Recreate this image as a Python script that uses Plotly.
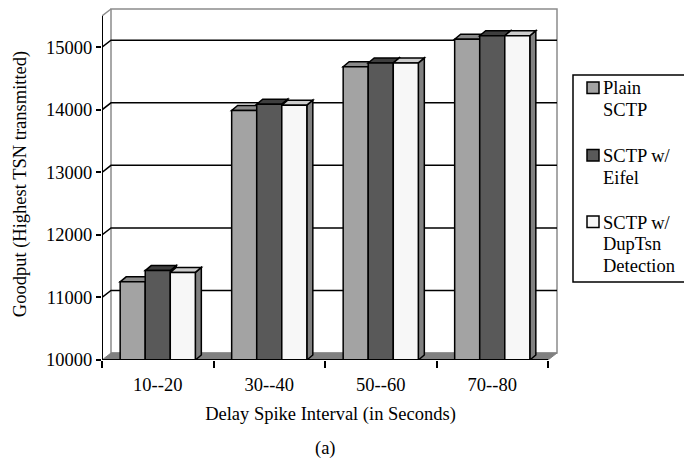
import plotly.graph_objects as go

# ---- data -------------------------------------------------------------
categories = ["10--20", "30--40", "50--60", "70--80"]
series_names = ["Plain SCTP", "SCTP w/ Eifel", "SCTP w/ DupTsn Detection"]
legend_lines = [["Plain", "SCTP"], ["SCTP w/", "Eifel"], ["SCTP w/", "DupTsn", "Detection"]]
plain_sctp = [11250, 13990, 14690, 15130]
sctp_eifel = [11430, 14090, 14750, 15185]
sctp_duptsn = [11400, 14075, 14750, 15185]
y_ticks = [10000, 11000, 12000, 13000, 14000, 15000]

# ---- style ------------------------------------------------------------
FONT = "Liberation Serif, Times New Roman, serif"
FS = 18.5
front_colors = ["#a3a3a3", "#595959", "#f7f7f7"]
top_colors = ["#8a8a8a", "#3e3e3e", "#cdcdcd"]
side_colors = ["#707070", "#333333", "#808080"]
WALL_GRAY = "#8c8c8c"
FLOOR_GRAY = "#808080"

Y_MIN, Y_WALL_TOP, Y_RANGE_TOP = 10000, 15500, 15628
X_RANGE_RIGHT = 3.5 + 11 / 111.5
WALL_DX, WALL_DY = 9 / 111.5, 112      # depth of the back wall (x in categories, y in units)
BAR_DX, BAR_DY = 6 / 111.5, 80         # depth of each column
BARGAP = 0.326

# figure geometry (pixels) used to place the legend box in paper units
W, H = 684, 461
ML, MR, MT, MB = 102, 125, 8, 101
PW, PH = W - ML - MR, H - MT - MB


def px(x):
    return (x - ML) / PW


def py(y):
    return (H - MB - y) / PH


series = [plain_sctp, sctp_eifel, sctp_duptsn]
xpos = list(range(len(categories)))
x_left, x_right = -0.5, len(categories) - 0.5
bw = (1 - BARGAP) / len(series)

fig = go.Figure()
for j, (name, vals) in enumerate(zip(series_names, series)):
    fig.add_trace(go.Bar(
        x=xpos, y=vals, name=name, showlegend=False,
        marker=dict(color=front_colors[j], line=dict(color="black", width=1.5)),
    ))


def poly(pts):
    return "M " + " L ".join(f"{x},{y}" for x, y in pts) + " Z"


shapes = []
# back wall
shapes.append(dict(type="rect", layer="below", xref="x", yref="y",
                   x0=x_left + WALL_DX, x1=x_right + WALL_DX,
                   y0=Y_MIN + WALL_DY, y1=Y_WALL_TOP + WALL_DY,
                   fillcolor="white", line=dict(color=WALL_GRAY, width=1.5)))
# top edge of left wall
shapes.append(dict(type="line", layer="below", xref="x", yref="y",
                   x0=x_left, y0=Y_WALL_TOP, x1=x_left + WALL_DX, y1=Y_WALL_TOP + WALL_DY,
                   line=dict(color=WALL_GRAY, width=1.5)))
# floor
shapes.append(dict(type="path", layer="below", xref="x", yref="y",
                   path=poly([(x_left, Y_MIN), (x_right, Y_MIN),
                              (x_right + WALL_DX, Y_MIN + WALL_DY),
                              (x_left + WALL_DX, Y_MIN + WALL_DY)]),
                   fillcolor=FLOOR_GRAY, line=dict(color=FLOOR_GRAY, width=1)))
# gridlines: diagonal on left wall + horizontal on back wall
for v in y_ticks[1:]:
    shapes.append(dict(type="path", layer="below", xref="x", yref="y",
                       path=f"M {x_left},{v} L {x_left + WALL_DX},{v + WALL_DY} L {x_right + WALL_DX},{v + WALL_DY}",
                       line=dict(color="black", width=1.5)))
# column sides and tops, painted left to right
for i in xpos:
    for j, vals in enumerate(series):
        v = vals[i]
        x0 = i + (j - len(series) / 2) * bw
        x1 = x0 + bw
        shapes.append(dict(type="path", layer="below", xref="x", yref="y",
                           path=poly([(x1, Y_MIN), (x1, v), (x1 + BAR_DX, v + BAR_DY),
                                      (x1 + BAR_DX, Y_MIN + BAR_DY)]),
                           fillcolor=side_colors[j], line=dict(color="black", width=1.5)))
        shapes.append(dict(type="path", layer="below", xref="x", yref="y",
                           path=poly([(x0, v), (x1, v), (x1 + BAR_DX, v + BAR_DY),
                                      (x0 + BAR_DX, v + BAR_DY)]),
                           fillcolor=top_colors[j], line=dict(color="black", width=1.5)))
# front axis lines
shapes.append(dict(type="line", layer="above", xref="x", yref="y",
                   x0=x_left, x1=x_left, y0=Y_MIN, y1=Y_WALL_TOP,
                   line=dict(color="black", width=2)))
shapes.append(dict(type="line", layer="above", xref="x", yref="y",
                   x0=x_left, x1=x_right, y0=Y_MIN, y1=Y_MIN,
                   line=dict(color="black", width=2)))

# legend: framed box with swatches and wrapped labels
annotations = []
shapes.append(dict(type="rect", layer="above", xref="paper", yref="paper",
                   x0=px(573), x1=px(700), y0=py(282), y1=py(75),
                   fillcolor="white", line=dict(color="black", width=1.5)))
LEG_TOP = [82, 149.5, 216]      # top of each swatch
LINE_STEP = 21.7
for j, lines in enumerate(legend_lines):
    top = LEG_TOP[j]
    shapes.append(dict(type="rect", layer="above", xref="paper", yref="paper",
                       x0=px(587), x1=px(599), y0=py(top + 11.5), y1=py(top),
                       fillcolor=front_colors[j], line=dict(color="black", width=1.5)))
    for k, line in enumerate(lines):
        baseline = top + 12.5 + k * LINE_STEP
        annotations.append(dict(text=line, xref="paper", yref="paper",
                                x=px(601), y=py(baseline - 6), xanchor="left", yanchor="middle",
                                showarrow=False, font=dict(family=FONT, size=FS)))

annotations.append(dict(text="(a)", x=1.5, xref="x", y=py(448), yref="paper",
                        xanchor="center", yanchor="middle",
                        showarrow=False, font=dict(family=FONT, size=FS)))

fig.update_layout(
    width=W, height=H,
    margin=dict(l=ML, r=MR, t=MT, b=MB, autoexpand=False),
    paper_bgcolor="white", plot_bgcolor="white",
    font=dict(family=FONT, size=FS, color="black"),
    barmode="group", bargap=BARGAP, bargroupgap=0,
    shapes=shapes,
    annotations=annotations,
    showlegend=False,
    xaxis=dict(
        range=[x_left, X_RANGE_RIGHT], tickvals=xpos, ticktext=categories,
        ticks="outside", ticklen=8, tickcolor="rgba(0,0,0,0)",
        showgrid=False, zeroline=False, showline=False,
        minor=dict(tickvals=[i - 0.5 for i in range(len(categories) + 1)],
                   ticks="outside", ticklen=7, tickwidth=2, tickcolor="black",
                   showgrid=False),
        title=dict(text="Delay Spike Interval (in Seconds)", standoff=12,
                   font=dict(family=FONT, size=FS)),
    ),
    yaxis=dict(
        range=[Y_MIN, Y_RANGE_TOP], tickvals=y_ticks, tickformat="d",
        ticks="outside", ticklen=5, tickwidth=2, tickcolor="black",
        showgrid=False, zeroline=False, showline=False,
        title=dict(text="Goodput (Highest TSN transmitted)", standoff=14,
                   font=dict(family=FONT, size=FS)),
    ),
)

fig.write_html("out.html")
